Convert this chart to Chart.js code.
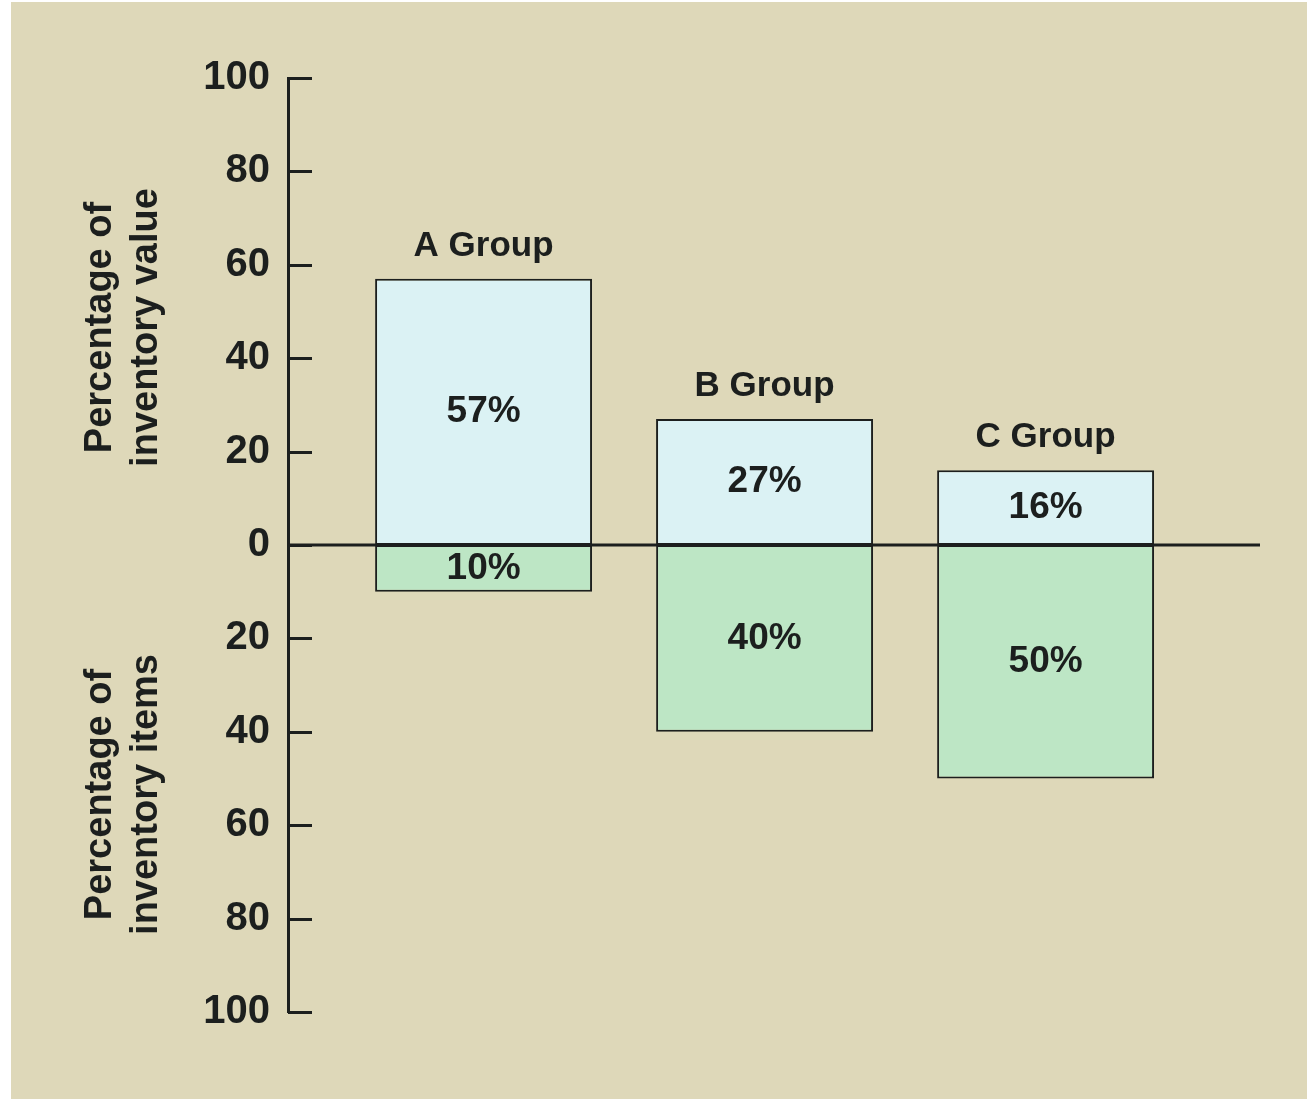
<!DOCTYPE html>
<html>
<head>
<meta charset="utf-8">
<script src="https://cdn.jsdelivr.net/npm/chart.js@4.4.1/dist/chart.umd.min.js"></script>
<style>
html, body {
margin: 0;
padding: 0;
background: #ffffff;
}
#wrap {
position: absolute;
left: 11px;
top: 2px;
width: 1296px;
height: 1097px;
background: #ded8b9;
}
</style>
</head>
<body>
<div id="wrap"><canvas id="abcChart"></canvas></div>
<script>
const groups = ["A Group", "B Group", "C Group"];
const valueShare = [57, 27, 16];
const itemShare = [10, 40, 50];
const yTicks = [-100, -80, -60, -40, -20, 0, 20, 40, 60, 80, 100];

const inkColor = "#1c1f1e";
const boldFont = "bold 37px 'Liberation Sans', Arial, sans-serif";

function drawText(ctx, text, x, y, font, align, baseline) {
ctx.font = font;
ctx.textAlign = align;
ctx.textBaseline = baseline;
ctx.fillText(text, x, y);
}

const axisDecor = {
id: "axisDecor",
afterDatasetsDraw(chart) {
const ctx = chart.ctx;
const area = chart.chartArea;
const y = chart.scales.y;
ctx.save();
ctx.strokeStyle = inkColor;
ctx.lineWidth = 3;
// zero line across the bars
const y0 = y.getPixelForValue(0);
ctx.beginPath();
ctx.moveTo(area.left, y0);
ctx.lineTo(area.right, y0);
ctx.stroke();
// tick marks point right of the axis
y.ticks.forEach(t => {
const py = Math.round(y.getPixelForValue(t.value)) + 0.5;
ctx.beginPath();
ctx.moveTo(area.left, py);
ctx.lineTo(area.left + 24, py);
ctx.stroke();
});
ctx.fillStyle = inkColor;
const top = chart.getDatasetMeta(0).data;
const bottom = chart.getDatasetMeta(1).data;
for (let i = 0; i < groups.length; i++) {
const a = top[i];
const b = bottom[i];
drawText(ctx, groups[i], a.x, a.y - 23, "bold 35px 'Liberation Sans', Arial, sans-serif", "center", "alphabetic");
drawText(ctx, valueShare[i] + "%", a.x, (a.y + a.base) / 2, boldFont, "center", "middle");
drawText(ctx, itemShare[i] + "%", b.x, (b.y + b.base) / 2, boldFont, "center", "middle");
}
// two-line rotated axis titles
const titleFont = "bold 38px 'Liberation Sans', Arial, sans-serif";
const titles = [
{ lines: ["Percentage of", "inventory value"], cy: y.getPixelForValue(50) + 16 },
{ lines: ["Percentage of", "inventory items"], cy: y.getPixelForValue(-50) + 16 }
];
titles.forEach(t => {
t.lines.forEach((line, k) => {
ctx.save();
ctx.translate(100 + k * 46, t.cy);
ctx.rotate(-Math.PI / 2);
drawText(ctx, line, 0, 0, titleFont, "center", "alphabetic");
ctx.restore();
});
});
ctx.restore();
}
};

new Chart(document.getElementById("abcChart"), {
type: "bar",
data: {
datasets: [
{
label: "Percentage of inventory value",
data: groups.map((g, i) => ({ x: i, y: valueShare[i] })),
backgroundColor: "#dbf2f4",
borderColor: inkColor,
borderWidth: 2,
borderSkipped: false
},
{
label: "Percentage of inventory items",
data: groups.map((g, i) => ({ x: i, y: -itemShare[i] })),
backgroundColor: "#bde6c5",
borderColor: inkColor,
borderWidth: 2,
borderSkipped: false
}
]
},
options: {
responsive: true,
maintainAspectRatio: false,
animation: false,
categoryPercentage: 1,
barPercentage: 0.772,
layout: {
padding: { top: 76, right: 47, bottom: 87, left: 0 }
},
plugins: {
legend: { display: false },
tooltip: { enabled: false }
},
scales: {
x: {
type: "linear",
min: -0.696,
max: 2.763,
offset: false,
bounds: "data",
stacked: true,
display: false,
grid: { offset: false },
afterBuildTicks: scale => {
scale.ticks = groups.map((g, i) => ({ value: i }));
}
},
y: {
min: -100,
max: 100,
stacked: true,
afterFit: scale => {
scale.width = 277;
},
afterBuildTicks: scale => {
scale.ticks = yTicks.map(v => ({ value: v }));
},
grid: {
display: false,
drawTicks: false
},
border: {
display: true,
color: inkColor,
width: 3
},
ticks: {
padding: 18,
color: inkColor,
font: {
family: "'Liberation Sans', Arial, sans-serif",
size: 40,
weight: "bold"
},
callback: value => String(Math.abs(value))
}
}
}
},
plugins: [axisDecor]
});
</script>
</body>
</html>
